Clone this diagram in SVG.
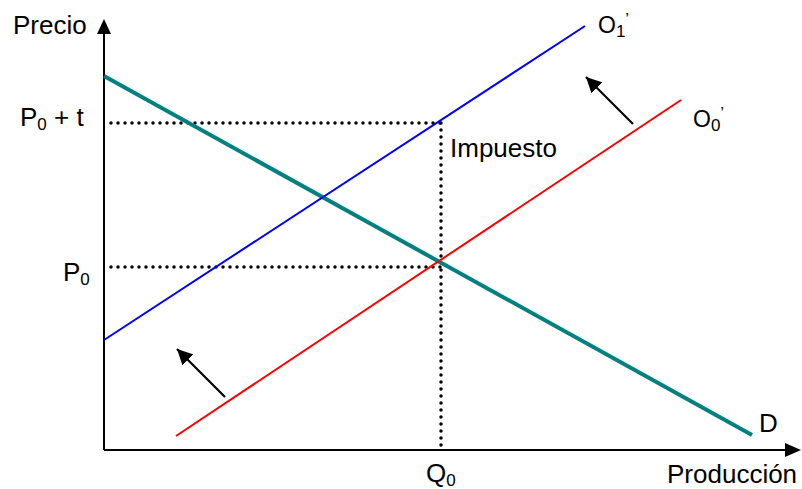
<svg xmlns="http://www.w3.org/2000/svg" width="802" height="489" viewBox="0 0 802 489">
<defs>
<style>
.t{font-family:"Liberation Sans",Arial,sans-serif;fill:#000;font-size:26px}
.o{font-size:23px}
.s{font-size:17px}
.dot{stroke:#000;stroke-width:3.5;stroke-linecap:round;stroke-dasharray:0 7;fill:none}
.ax{stroke:#000;stroke-width:2;fill:none}
.sh{stroke:#000;stroke-width:2.2;fill:none}
</style>
<marker id="ah" viewBox="0 0 10 10" refX="10" refY="5" markerWidth="7" markerHeight="7" markerUnits="strokeWidth" orient="auto"><path d="M0,0 L10,5 L0,10 z" fill="#000"/></marker>
</defs>
<rect width="802" height="489" fill="#fff"/>
<g id="axes">
<line class="ax" x1="104" y1="450" x2="104" y2="33"/>
<path d="M104,19 L97,34 L111,34 z" fill="#000"/>
<line class="ax" x1="104" y1="450" x2="786" y2="450"/>
<path d="M801,450 L785,443 L785,457 z" fill="#000"/>
</g>
<g id="guides">
<line class="dot" x1="111" y1="123" x2="441" y2="123"/>
<line class="dot" x1="111" y1="267" x2="441" y2="267"/>
<line class="dot" x1="441" y1="123" x2="441" y2="446"/>
</g>
<g id="D"><line x1="104" y1="76" x2="752" y2="435" stroke="#008080" stroke-width="4"/></g>
<g id="O1"><line x1="104" y1="340" x2="585" y2="26" stroke="#0000FF" stroke-width="2"/></g>
<g id="O0"><line x1="176" y1="436" x2="681" y2="100" stroke="#FF0000" stroke-width="2"/></g>
<g id="connectors">
<line class="sh" x1="633" y1="124" x2="586" y2="77" marker-end="url(#ah)"/>
<line class="sh" x1="225" y1="397" x2="177" y2="349" marker-end="url(#ah)"/>
</g>
<g id="labels">
<text class="t" x="13" y="34">Precio</text>
<text class="t" x="20" y="126">P<tspan class="s" dy="4">0</tspan><tspan dy="-4"> + t</tspan></text>
<text class="t" x="63" y="281">P<tspan class="s" dy="4">0</tspan></text>
<text class="t" x="426" y="482">Q<tspan class="s" dy="4">0</tspan></text>
<text class="t" x="667" y="483">Producción</text>
<text class="t" x="759" y="432">D</text>
<text class="t" x="450" y="157">Impuesto</text>
<text class="t o" x="598" y="33">O<tspan class="s" dy="4">1</tspan><tspan class="s" dy="-12">’</tspan></text>
<text class="t o" x="693" y="127">O<tspan class="s" dy="4">0</tspan><tspan class="s" dy="-12">’</tspan></text>
</g>
</svg>
